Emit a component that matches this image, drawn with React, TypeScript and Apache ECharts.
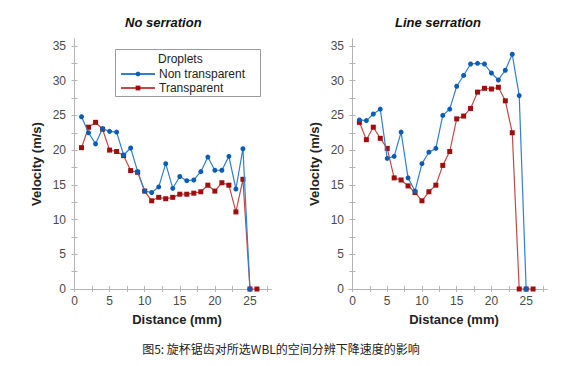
import React, { useEffect, useRef } from "react";
import * as echarts from "echarts";

// Distance (mm) for each measured point
const distLeftBlue = [1,2,3,4,5,6,7,8,9,10,11,12,13,14,15,16,17,18,19,20,21,22,23,24,25];
const distLeftRed = [1,2,3,4,5,6,7,8,9,10,11,12,13,14,15,16,17,18,19,20,21,22,23,24,25,26];
const distRightBlue = [1,2,3,4,5,6,7,8,9,10,11,12,13,14,15,16,17,18,19,20,21,22,23,24,25];
const distRightRed = [1,2,3,4,5,6,7,8,9,10,11,12,13,14,15,16,17,18,19,20,21,22,23,24,25,26];

// No serration
const noSerrNonTransparent = [24.8,22.5,20.9,23.1,22.7,22.6,19.3,20.3,16.9,14.1,13.9,14.7,18.05,14.5,16.2,15.6,15.7,16.9,19.0,17.1,17.1,19.1,14.4,20.2,0];
const noSerrTransparent = [20.35,23.3,24.0,23.0,20.0,19.8,19.2,17.05,16.8,14.1,12.7,13.2,13.0,13.2,13.65,13.65,13.8,14.0,14.95,14.1,15.3,14.95,11.1,15.8,0,0];

// Line serration
const lineSerrNonTransparent = [24.35,24.25,25.2,25.9,18.8,19.1,22.6,16.0,14.1,18.05,19.7,20.25,25.0,25.9,29.2,30.75,32.4,32.5,32.4,31.1,30.1,31.5,33.8,27.85,0];
const lineSerrTransparent = [24.0,21.5,23.3,21.7,20.25,16.0,15.7,14.85,13.9,12.7,14.0,14.95,17.8,19.8,24.5,24.9,26.0,28.35,28.9,28.8,29.05,27.1,22.5,0,0,0];

const xLabels = [0, 5, 10, 15, 20, 25];
const xTicks = [0, 2.5, 5, 7.5, 10, 12.5, 15, 17.5, 20, 22.5, 25, 27.5];
const yLabels = [0, 5, 10, 15, 20, 25, 30, 35];
const yTicks = [0, 2.5, 5, 7.5, 10, 12.5, 15, 17.5, 20, 22.5, 25, 27.5, 30, 32.5, 35];

const titles = ["No serration", "Line serration"];
const seriesNames = ["Non transparent", "Transparent"];

const BLUE_LINE = "#2f7fd2";
const BLUE_DOT = "#0b5cb5";
const RED_LINE = "#c44848";
const RED_DOT = "#a00d0d";
const AXIS = "#b4b4b4";
const LABEL = "#4a4a4a";

const pairs = (xs: number[], ys: number[]) => xs.map((x, i) => [x, ys[i]]);

export default function App() {
  const ref = useRef<HTMLDivElement>(null);
  useEffect(() => {
    if (!ref.current) return;
    const chart = echarts.init(ref.current, undefined, { renderer: "svg" });
    const grids = [
      { left: 71, top: 39, width: 200, height: 250 },
      { left: 349, top: 39, width: 198, height: 250 },
    ];
    const xAxes: any[] = [];
    const yAxes: any[] = [];
    [0, 1].forEach((g) => {
      xAxes.push({
        type: "value", gridIndex: g, min: -0.5, max: 28, position: "bottom",
        name: "Distance (mm)", nameLocation: "middle", nameGap: 24,
        nameTextStyle: { fontSize: 13, fontWeight: "bold", color: "#222", fontFamily: "Liberation Sans", padding: [0, 0, 0, 12] },
        axisLine: { lineStyle: { color: AXIS } },
        axisTick: { inside: true, length: 3, customValues: xTicks, lineStyle: { color: AXIS } },
        axisLabel: { customValues: xLabels, fontSize: 12, color: LABEL, fontFamily: "Liberation Sans", margin: 6 },
        splitLine: { show: false },
      });
      xAxes.push({
        type: "value", gridIndex: g, min: -0.5, max: 28, position: "top",
        axisLine: { lineStyle: { color: AXIS } },
        axisTick: { inside: true, length: 3, customValues: xTicks, lineStyle: { color: AXIS } },
        axisLabel: { show: false },
        splitLine: { show: false },
      });
      yAxes.push({
        type: "value", gridIndex: g, min: 0, max: 36, position: "left",
        name: "Velocity (m/s)", nameLocation: "middle", nameGap: 28,
        nameTextStyle: { fontSize: 13, fontWeight: "bold", color: "#222", fontFamily: "Liberation Sans" },
        axisLine: { show: true, lineStyle: { color: AXIS } },
        axisTick: { show: true, inside: true, length: 3, customValues: yTicks, lineStyle: { color: AXIS } },
        axisLabel: { customValues: yLabels, fontSize: 12, color: LABEL, fontFamily: "Liberation Sans", margin: 5 },
        splitLine: { show: false },
      });
      yAxes.push({
        type: "value", gridIndex: g, min: 0, max: 36, position: "right",
        axisLine: { show: true, lineStyle: { color: AXIS } },
        axisTick: { show: true, inside: true, length: 3, customValues: yTicks, lineStyle: { color: AXIS } },
        axisLabel: { show: false },
        splitLine: { show: false },
      });
    });

    const mk = (name: string, g: number, data: number[][], blue: boolean) => ({
      name,
      type: "line",
      xAxisIndex: g * 2,
      yAxisIndex: g * 2,
      data,
      symbol: blue ? "circle" : "rect",
      symbolSize: 5,
      lineStyle: { color: blue ? BLUE_LINE : RED_LINE, width: 1.2 },
      itemStyle: { color: blue ? BLUE_DOT : RED_DOT },
      z: blue ? 3 : 2,
    });

    chart.setOption({
      animation: false,
      backgroundColor: "#fff",
      title: [
        { text: titles[0], left: 125, top: 16, padding: 0, textStyle: { fontSize: 13, fontWeight: "bold", fontStyle: "italic", color: "#111", fontFamily: "Liberation Sans" } },
        { text: titles[1], left: 395, top: 16, padding: 0, textStyle: { fontSize: 13, fontWeight: "bold", fontStyle: "italic", color: "#111", fontFamily: "Liberation Sans" } },
      ],
      legend: {
        data: seriesNames,
        orient: "vertical",
        left: 120,
        top: 67,
        padding: 0,
        itemWidth: 34,
        itemHeight: 6,
        itemGap: 0,
        textStyle: { fontSize: 12, color: "#222", fontFamily: "Liberation Sans", lineHeight: 14, padding: [0, 0, 0, -1] },
        selectedMode: false,
      },
      grid: grids,
      xAxis: xAxes,
      yAxis: yAxes,
      series: [
        mk(seriesNames[1], 0, pairs(distLeftRed, noSerrTransparent), false),
        mk(seriesNames[0], 0, pairs(distLeftBlue, noSerrNonTransparent), true),
        mk(seriesNames[1], 1, pairs(distRightRed, lineSerrTransparent), false),
        mk(seriesNames[0], 1, pairs(distRightBlue, lineSerrNonTransparent), true),
      ],
      graphic: [
        { type: "rect", shape: { x: 115.5, y: 49.5, width: 145, height: 47 }, style: { fill: "none", stroke: "#9a9a9a", lineWidth: 1 }, z: 10 },
        { type: "text", x: 158, y: 59, style: { text: "Droplets", fontSize: 12, fill: "#222", fontFamily: "Liberation Sans", verticalAlign: "middle" }, z: 10 },
        { type: "text", x: 281, y: 348, style: { text: "图5: 旋杯锯齿对所选WBL的空间分辨下降速度的影响", fontSize: 12, fill: "#222", fontFamily: "Noto Sans CJK SC", align: "center", verticalAlign: "middle" } },
      ],
    });
    return () => chart.dispose();
  }, []);
  return <div ref={ref} style={{ position: "absolute", left: 0, top: 0, width: 588, height: 366 }} />;
}
